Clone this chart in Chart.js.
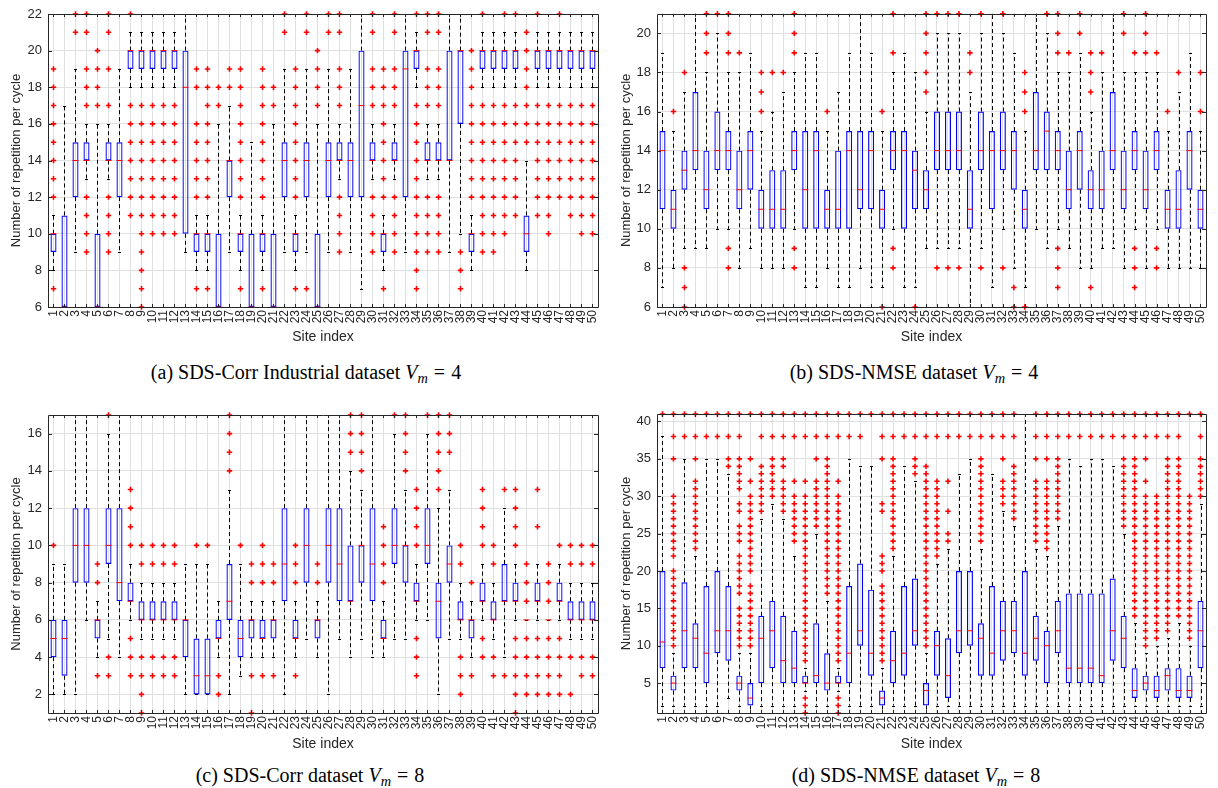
<!DOCTYPE html>
<html>
<head>
<title>Repetitions per cycle by site</title>
<style>
  body { margin: 0; background: #fff; }
  .panel { position: absolute; }
  .cap { position: absolute; text-align: center; font-family: "Liberation Serif", "Times New Roman", serif; font-size: 20px; line-height: 22px; color: #000; }
  .cap sub { font-size: 0.72em; vertical-align: -0.3em; line-height: 0; }
  .cap .eq { margin: 0 0.3em; }
</style>
</head>
<body>
<canvas id="chartA" class="panel" width="610" height="348" style="left:0;top:0"></canvas>
<canvas id="chartB" class="panel" width="608" height="348" style="left:610px;top:0"></canvas>
<canvas id="chartC" class="panel" width="610" height="365" style="left:0;top:390px"></canvas>
<canvas id="chartD" class="panel" width="608" height="365" style="left:610px;top:390px"></canvas>

<div class="cap" style="left:0;top:361px;width:612px">(a) SDS-Corr Industrial dataset <i>V<sub>m</sub></i><span class="eq">=</span>4</div>
<div class="cap" style="left:610px;top:361px;width:608px">(b) SDS-NMSE dataset <i>V<sub>m</sub></i><span class="eq">=</span>4</div>
<div class="cap" style="left:0;top:764px;width:620px">(c) SDS-Corr dataset <i>V<sub>m</sub></i><span class="eq">=</span>8</div>
<div class="cap" style="left:610px;top:764px;width:612px">(d) SDS-NMSE dataset <i>V<sub>m</sub></i><span class="eq">=</span>8</div>

<script src="https://cdn.jsdelivr.net/npm/chart.js@4.4.0/dist/chart.umd.min.js"></script>
<script>
const sites = ['1','2','3','4','5','6','7','8','9','10','11','12','13','14','15','16','17','18','19','20',
  '21','22','23','24','25','26','27','28','29','30','31','32','33','34','35','36','37','38','39','40',
  '41','42','43','44','45','46','47','48','49','50'];

// (a) SDS-Corr Industrial, Vm = 4
const aTicks = [6, 8, 10, 12, 14, 16, 18, 20, 22];
const aLo  = [8,6,9,13,6,13,9,18,18,18, 18,18,9,8,8,6,9,8,6,8, 6,9,8,9,6,9,13,9,7,13, 8,13,9,18,13,13,9,10,8,18, 18,18,18,8,18,18,18,18,18,18];
const aQ1  = [9,6,12,14,6,14,12,19,19,19, 19,19,10,9,9,6,12,9,6,9, 6,12,9,12,6,12,14,12,12,14, 9,14,12,19,14,14,14,16,9,19, 19,19,19,9,19,19,19,19,19,19];
const aMed = [10,6,14,14,6,14,14,20,20,20, 20,20,18,10,10,6,14,10,6,10, 6,14,10,14,6,14,14,14,17,14, 10,14,19,20,14,14,14,20,10,20, 20,20,20,10,20,20,20,20,20,20];
const aQ3  = [10,11,15,15,10,15,15,20,20,20, 20,20,20,10,10,10,14,10,10,10, 10,15,10,15,10,15,15,15,20,15, 10,15,20,20,15,15,20,20,10,20, 20,20,20,11,20,20,20,20,20,20];
const aHi  = [11,17,19,16,16,16,19,21,21,21, 21,21,22,11,11,16,17,11,15,11, 16,19,11,19,16,19,16,19,22,16, 11,16,22,21,16,16,22,22,11,21, 21,21,21,14,21,21,21,21,21,21];
const aOut = [
  [19,18,17,16,15,14,13,12,7], [], [22,21], [22,21,19,18,17,12,11,10,9], [20,19,18,17],
  [22,21,19,17,12,11,10,9], [], [22,17,16,15,14,13,12,11], [17,16,15,14,13,12,11,10,9,8,7,6], [17,16,15,14,13,12,11,10],
  [17,16,15,14,13,12,11,10], [17,16,15,14,13,12,11,10], [], [19,18,16,15,14,13,12,7], [19,18,17,16,15,14,13,12,7],
  [18,17], [19,18], [19,18,17,16,15,14,13,12,7], [], [19,18,17,16,15,14,13,12,7],
  [18,17], [22,21], [19,18,17,16,15,14,13,12,7], [22,21,7], [20,19,18,17],
  [22,21], [22,21,19,18,17,12,11,10,9], [], [], [22,21,19,18,17,12,11,10,9],
  [19,18,17,16,15,14,13,12,7], [22,21,19,18,17,12,11,10,9], [], [22,17,16,15,14,13,12,11,10,9,8,7], [22,21,19,18,17,12,11,10,9],
  [22,21,19,18,17,12,11,10,9], [], [9,8,7], [20,19,18,17,16,15,14,13,12], [22,17,16,15,14,13,12,11,10,9],
  [17,16,15,14,13,12,11,10,9], [22,17,16,15,14,13,12,11,10], [22,17,16,15,14,13,12,11], [21,20,19,18,17,16,15], [22,17,16,15,14,13,12,11],
  [17,16,15,14,13,12,11,10], [22,17,16,15,14,13,12], [17,16,15,14,13,12,11], [17,16,15,14,13,12,11,10], [17,16,15,14,13,12,11,10]
];

// (b) SDS-NMSE, Vm = 4
const bTicks = [6, 8, 10, 12, 14, 16, 18, 20];
const bLo  = [7,8,9,9,9,10,10,8,9,8, 8,8,10,7,7,8,7,7,8,7, 7,10,7,7,9,9,9,9,6,9, 7,10,8,7,10,9,10,9,8,8, 9,9,8,10,8,10,8,8,8,8];
const bQ1  = [11,10,12,13,11,13,13,11,12,10, 10,10,13,10,10,10,10,10,11,11, 10,13,10,11,11,13,13,13,10,13, 11,13,12,10,13,13,13,11,12,11, 11,13,11,13,11,13,10,10,12,10];
const bMed = [14,11,13,14,12,14,14,12,14,11, 11,11,14,12,14,11,11,14,12,14, 11,14,14,13,12,14,14,14,11,14, 14,14,14,11,14,15,14,12,14,12, 12,14,12,14,12,14,11,11,14,11];
const bQ3  = [15,12,14,17,14,16,15,14,15,12, 13,13,15,15,15,12,14,15,15,15, 12,15,15,14,13,16,16,16,13,16, 15,16,15,12,17,16,15,14,15,13, 14,17,14,15,14,15,12,13,15,12];
const bHi  = [19,15,17,21,18,20,18,18,19,15, 16,17,18,19,19,15,17,19,21,19, 15,18,19,18,16,20,20,20,17,20, 21,20,19,15,21,20,18,18,19,16, 18,21,18,18,18,18,15,17,19,15];
const bOut = [
  [], [16], [18,8,7,6], [], [21,20,19], [21], [21,20,19,9,8], [19], [], [18,17,16],
  [18], [18], [21,20,19,9,8], [], [], [16], [], [], [], [],
  [16,6], [21,19,9,8], [], [6], [21,20,19,18,17], [21,8], [21,8], [21,8], [19,18], [21,8],
  [], [21,8], [7,6], [18,17,16,6], [], [21], [21,20,19,9,8,7], [19], [21,20], [19,18,17,7],
  [19], [], [21,20], [19,9,8,7], [21,20,19], [19,9,8], [16], [18], [], [18,16]
];

// (c) SDS-Corr, Vm = 8
const cTicks = [2, 4, 6, 8, 10, 12, 14, 16];
const cLo  = [2,2,2,6,4,5,4,6,5,5, 5,5,2,2,2,4,2,3,4,4, 4,2,4,5,4,2,5,4,5,4, 4,5,5,6,6,2,5,5,4,6, 5,4,6,6,6,6,6,5,5,5];
const cQ1  = [4,3,8,8,5,9,7,7,6,6, 6,6,4,2,2,5,6,4,5,5, 5,7,5,8,5,8,7,7,8,7, 5,9,8,7,9,5,8,6,5,7, 6,7,7,6,7,6,7,6,6,6];
const cMed = [5,5,10,10,6,10,8,7,6,6, 6,6,6,3,3,5,7,5,6,5, 6,9,5,10,6,10,9,7,10,9, 5,10,10,7,10,7,9,6,6,7, 6,7,7,6,7,6,7,6,6,6];
const cQ3  = [6,6,12,12,6,12,12,8,7,7, 7,7,6,5,5,6,9,6,6,6, 6,12,6,12,6,12,12,10,10,12, 6,12,10,8,12,8,10,7,6,8, 7,9,8,6,8,6,8,7,7,7];
const cHi  = [9,9,17,17,7,16,17,9,8,8, 8,8,9,9,9,7,13,9,7,7, 7,17,7,17,7,17,17,14,13,17, 7,16,13,9,16,12,13,8,7,9, 8,12,9,6,9,6,9,8,8,8];
const cOut = [
  [10], [], [], [], [9,8,3], [17,4,3], [], [13,12,11,10,5,4,3], [10,9,4,3,2,1], [10,9,4,3],
  [10,9,4,3], [10,9,4,3], [], [10], [10], [3,2], [17,16,15,14], [10], [9,8,3,1], [10,9,8,3],
  [9,8,3], [], [10,9,8,3], [], [9,8], [], [], [17,16,15], [17,16,15,14], [],
  [11,10,9,8], [17], [17,16,15,14], [13,12,11,10,5,4,3], [17], [17,16,15,14,13], [17,16,15], [10,9,4,3,2], [8,3], [13,12,11,10,5,4],
  [10,9,4,3], [13,3], [13,12,11,10,5,4,3,2,1], [9,8,7,5,4,3,2], [13,11,5,4,3,2], [9,8,7,5,4,3,2], [10,5,4,3,2], [10,9,4,2], [10,9,4,3], [10,9,4,3]
];

// (d) SDS-NMSE, Vm = 8
const dTicks = [5, 10, 15, 20, 25, 30, 35, 40];
const dLo  = [2,2,2,2,2,2,3,2,1,2, 2,2,2,4,2,2,4,2,2,2, 1,2,2,2,1,2,2,2,2,2, 2,2,2,2,2,2,2,2,2,2, 2,2,2,2,2,2,2,2,2,2];
const dQ1  = [7,4,7,7,5,9,8,4,2,5, 7,5,5,5,5,4,5,5,10,6, 2,5,6,10,2,6,3,9,10,6, 6,8,9,6,8,5,9,5,5,5, 5,8,7,3,4,3,4,3,3,7];
const dMed = [10.5,5,12,11,9,12,12,5,3,11, 12,8,7,5,6,5,5,9,12,9, 3,8,9,12,4,10,6,12,12,11, 9,12,12,9,11,10,12,7,7,7, 6,12,11,4,5,4,6,4,4,12];
const dQ3  = [20,6,18.5,13,18,20,18,6,5,14, 16,14,12,6,13,9,6,18,21,17.5, 4,12,18,19,5,12,11,20,20,13, 18,16,16,20,14,12,16,17,17,17, 17,19,14,7,6,6,7,7,6,16];
const dHi  = [38,9,35,22,35,35,33,9,9,27, 29,27,22,7,25,16,7,35,34,34, 7,22,34,32,9,21,23,33,35,23, 33,28,26,41,23,22,26,35,34,35, 35,34,25,13,9,10,11,13,10,29];
const dOut = [
  [41],
  [41,38,35,30,29,28,27,26,25,24,23,22,20,19,18,17,16,15,14,13,12,11,10],
  [41,38],
  [41,38,35,32,31,30,29,28,27,26,25,24,23],
  [41,38],
  [41,38],
  [41,38,35,34],
  [41,38,35,34,33,32,31,29,28,26,25,24,22,21,20,19,18,17,15,14,13,12,11,10],
  [41,35,32,30,29,28,27,26,25,24,23,22,21,20,18,17,16,15,14,13,12,11,10],
  [41,38,34,33,32,31,30,29,28],
  [41,38,35,34,33,32,31,30],
  [41,38,35,34,32,31,30,29,28],
  [41,38,32,30,29,28,27,26,25,24],
  [41,38,32,30,29,28,27,26,25,24,23,22,21,20,19,18,17,16,15,14,13,12,11,10,9,8,3,2,1],
  [41,38,35,32,31,30,29,28,27,26],
  [41,38,35,34,33,32,31,30,29,28,27,26,25,24,23,22,21,20,19,18,17],
  [41,38,32,30,29,28,27,26,25,24,23,22,21,20,19,18,17,16,15,14,13,12,11,10,9,8,3,2,1],
  [41,38],
  [41,38],
  [41],
  [41,38,35,29,28,22,21,20,18,17,16,15,14,13,12,11,10,9,8],
  [41,38,35,34,33,32,31,30,29,28,27,26,25,24,23],
  [41,38],
  [41,38,35,34,33],
  [41,38,34,33,32,31,30,29,28,27,26,25,24,23,22,21,20,19,18,17,16,15,14,13,12,11,10],
  [41,38,32,31,30,29,28,27,26,25,24,23,22],
  [41,38,32,28,25,24],
  [41,38],
  [41,38],
  [41,38,35,34,33,32,31,30,29,28,27,26,25,24],
  [41,38],
  [41,38,35,32,31,30,29],
  [41,38,34,33,32,31,30,29,28,27],
  [],
  [41,38,35,32,31,30,29,28,27,26,25,24],
  [41,38,35,32,31,30,29,28,27,26,25,24,23],
  [41,38,35,34,33,32,31,30,29,28,27],
  [41,38],
  [41,38],
  [41,38],
  [41,38],
  [41,38],
  [41,38,35,34,33,32,31,30,29,28,27,26],
  [41,38,35,34,33,32,31,30,29,28,27,26,25,24,23,22,21,20,19,18,17,16,15,14],
  [41,38,35,32,30,29,28,27,26,25,24,23,22,21,20,19,18,17,16,15,14,13,12,11,10],
  [41,38,30,29,28,27,26,25,24,23,22,21,20,19,18,17,16,15,14,13,12,11],
  [41,38,35,34,33,32,31,30,29,28,27,26,25,24,23,22,21,20,19,18,17,16,15,14,13,12],
  [41,38,35,34,33,32,31,30,29,28,27,26,25,24,23,22,21,20,19,18,17,16,15,14],
  [41,30,29,28,27,26,25,24,23,22,21,20,19,18,17,16,15,14,13,12,11],
  [41,38,35,34,33,32,31,30]
];

const FONT = "'Liberation Sans', Arial, Helvetica, sans-serif";
const TEXT = '#262626';
const GRID = '#e0e0e0';

function boxChart(id, lo, q1, med, q3, hi, out, yMin, yMax, yTicks, pad, yWidth, xHeight) {
  const boxes = q1.map((v, i) => [v, q3[i]]);
  const medians = med.map((v, i) => ({x: sites[i], y: v}));
  const fliers = [];
  out.forEach((list, i) => list.forEach(v => fliers.push({x: sites[i], y: v})));

  // dashed whiskers with caps, then the black axes frame with inward ticks
  const boxExtras = {
    id: 'boxExtras',
    beforeDatasetsDraw(chart) {
      const {ctx, scales: {x, y}} = chart;
      ctx.save();
      ctx.strokeStyle = '#000';
      ctx.lineWidth = 1;
      sites.forEach((s, i) => {
        const px = Math.round(x.getPixelForValue(i)) + 0.5;
        ctx.setLineDash([4, 3]);
        ctx.beginPath();
        ctx.moveTo(px, y.getPixelForValue(q3[i]));
        ctx.lineTo(px, y.getPixelForValue(hi[i]));
        ctx.moveTo(px, y.getPixelForValue(q1[i]));
        ctx.lineTo(px, y.getPixelForValue(lo[i]));
        ctx.stroke();
        ctx.setLineDash([]);
        ctx.beginPath();
        [lo[i], hi[i]].forEach(v => {
          const py = Math.round(y.getPixelForValue(v)) + 0.5;
          ctx.moveTo(px - 1.5, py);
          ctx.lineTo(px + 1.5, py);
        });
        ctx.stroke();
      });
      ctx.restore();
    },
    afterDraw(chart) {
      const {ctx, chartArea: a, scales: {x, y}} = chart;
      ctx.save();
      ctx.strokeStyle = TEXT;
      ctx.lineWidth = 1;
      ctx.beginPath();
      ctx.rect(Math.round(a.left) + 0.5, Math.round(a.top) + 0.5, Math.round(a.right - a.left), Math.round(a.bottom - a.top));
      yTicks.forEach(v => {
        const py = Math.round(y.getPixelForValue(v)) + 0.5;
        ctx.moveTo(a.left, py); ctx.lineTo(a.left + 4, py);
        ctx.moveTo(a.right, py); ctx.lineTo(a.right - 4, py);
      });
      sites.forEach((s, i) => {
        const px = Math.round(x.getPixelForValue(i)) + 0.5;
        ctx.moveTo(px, a.bottom); ctx.lineTo(px, a.bottom - 3);
        ctx.moveTo(px, a.top); ctx.lineTo(px, a.top + 3);
      });
      ctx.stroke();
      ctx.restore();
    }
  };

  return new Chart(document.getElementById(id), {
    type: 'bar',
    data: {
      labels: sites,
      datasets: [
        {
          type: 'scatter',
          data: fliers,
          pointStyle: 'cross',
          pointRadius: 2.7,
          pointBorderColor: '#ff0000',
          pointBackgroundColor: '#ff0000',
          pointBorderWidth: 1.6,
          clip: false,
          order: 1
        },
        {
          type: 'scatter',
          data: medians,
          pointStyle: 'line',
          pointRadius: 3,
          pointBorderColor: '#ff0000',
          pointBorderWidth: 1,
          order: 2
        },
        {
          type: 'bar',
          data: boxes,
          backgroundColor: 'rgba(0,0,0,0)',
          borderColor: '#0000ff',
          borderWidth: 1.2,
          borderSkipped: false,
          barPercentage: 0.55,
          categoryPercentage: 1,
          order: 3
        }
      ]
    },
    options: {
      responsive: false,
      animation: false,
      events: [],
      layout: { padding: pad },
      plugins: { legend: { display: false }, tooltip: { enabled: false } },
      scales: {
        x: {
          offset: true,
          grid: { color: GRID, offset: false, drawTicks: false },
          border: { display: false },
          ticks: { autoSkip: false, maxRotation: 90, minRotation: 90, padding: 3, color: TEXT, font: { family: FONT, size: 12 } },
          title: { display: true, text: 'Site index', color: TEXT, font: { family: FONT, size: 14 }, padding: { top: 0, bottom: 2 } },
          afterFit(s) { s.height = xHeight; }
        },
        y: {
          min: yMin,
          max: yMax,
          afterBuildTicks(s) { s.ticks = yTicks.map(v => ({ value: v })); },
          grid: { color: GRID, drawTicks: false },
          border: { display: false },
          ticks: { padding: 6, color: TEXT, font: { family: FONT, size: 13 } },
          title: { display: true, text: 'Number of repetition per cycle', color: TEXT, font: { family: FONT, size: 13 }, padding: { top: 9, bottom: 0 } },
          afterFit(s) { s.width = yWidth; }
        }
      }
    },
    plugins: [boxExtras]
  });
}

boxChart('chartA', aLo, aQ1, aMed, aQ3, aHi, aOut, 6, 22, aTicks, { left: 0, top: 14, right: 11, bottom: 0 }, 48, 41);
boxChart('chartB', bLo, bQ1, bMed, bQ3, bHi, bOut, 6, 21, bTicks, { left: 0, top: 8, right: 11, bottom: 0 }, 47, 41);
boxChart('chartC', cLo, cQ1, cMed, cQ3, cHi, cOut, 1, 17, cTicks, { left: 0, top: 25, right: 11, bottom: 0 }, 48, 42);
boxChart('chartD', dLo, dQ1, dMed, dQ3, dHi, dOut, 1, 41, dTicks, { left: 0, top: 24, right: 9, bottom: 0 }, 47, 42);
</script>
</body>
</html>
